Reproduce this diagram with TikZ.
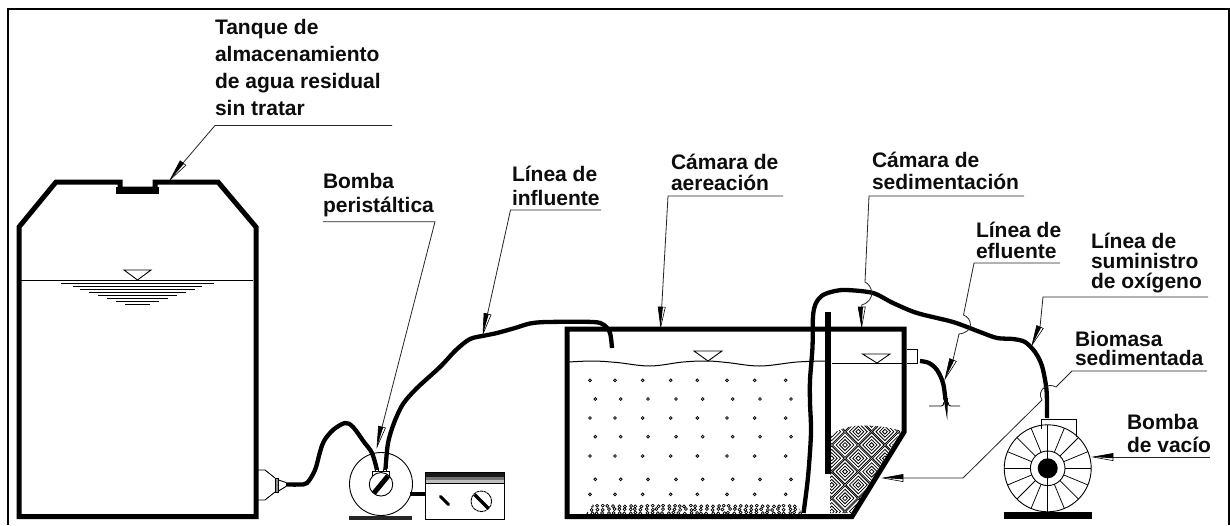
\documentclass[tikz,border=0pt]{standalone}
\usepackage{fontspec}
\setmainfont{Liberation Sans}
\usetikzlibrary{calc}
\tikzset{
  wall/.style={line width=5pt,line join=miter,draw=black},
  tube/.style={line width=4.3pt,draw=black,line cap=butt},
  thin line/.style={line width=0.9pt,draw=black},
  leader/.style={line width=0.8pt,draw=black!85},
  lbl/.style={anchor=base west,align=left,inner sep=0pt,outer sep=0pt,font=\fontsize{21}{#1}\bfseries\selectfont,text=black!95},
}
\newcommand\calloutarrow[2]{%
  \draw[line width=.6pt,fill=white] (#1) -- ($(#2)!3.6pt!90:(#1)$) -- ($(#2)!3.6pt!-90:(#1)$) -- cycle;
  \fill (#1) -- ($(#2)!3.6pt!-90:(#1)$) -- ($(#2)!1.2pt!90:(#1)$) -- cycle;
}
\begin{document}
\begin{tikzpicture}[x=1pt,y=-1pt]
\useasboundingbox (0,0) rectangle (1230,525);
\fill[white] (0,0) rectangle (1230,525);
% frame
\draw[line width=2pt] (7.5,525) -- (7.5,9) -- (1229,9) -- (1229,525);
% tank
\draw[wall] (19,516.5) -- (19,227) -- (56,182) -- (120,182) -- (120,189) -- (155,189) -- (155,182) -- (218,182) -- (256,227) -- (256,516.5) -- cycle;
\fill (116,187) rectangle (159,193.5);
\draw[thin line] (21,280) -- (253,280);
\draw[thin line] (124,270) -- (151,270) -- (137.5,280) -- cycle;
\foreach \yy/\xa/\xb in {283.3/61/214,286.7/73/202,289.6/80/195,292.4/89/186,295.3/98/177,298.3/107/168,301.3/116/159,304.3/125/150}
  \draw[line width=.8pt] (\xa,\yy) -- (\xb,\yy);
% tank outlet
\draw[thin line] (258,470) -- (265,470) -- (275,478);
\draw[thin line] (258,500) -- (265,500) -- (275,492);
\draw[thin line,fill=black!45] (275,478) rectangle (278.5,492);
\draw[thin line] (278.5,480) -- (286,482.5);
\draw[thin line] (278.5,491) -- (286,486.5);
% tube tank -> pump
\draw[tube] plot[smooth,tension=.55] coordinates {(286,484.5) (299,484.5) (307,483) (315,470) (320,452) (324,441) (333,430) (345,423) (353,427) (364,442) (372,453) (377,470)};
% peristaltic pump
\node[circle,draw=black,line width=.9pt,minimum size=63pt,inner sep=0pt] (ppump) at (381,484) {};
\node[circle,draw=black,line width=.9pt,minimum size=23.5pt,inner sep=0pt] (phub) at (381,484.3) {};
\draw[line width=5pt] (374,493) -- (388,476);
\draw[thin line] (372.7,476) -- (372.7,471.7) -- (389.3,471.7) -- (389.3,476);
\draw[thin line,fill=white] (375,469) rectangle (378,471.7);
\draw[thin line,fill=white] (383.3,469) rectangle (386.7,471.7);
\fill[black!85] (349,516) rectangle (412,519.5);
% influent tube
\draw[tube] plot[smooth,tension=.5] coordinates {(385.5,469) (388,443) (394,423) (403,404) (417,388) (440,367) (456,350) (470,339) (485,335.5) (497,333) (515,328) (530,323.5) (547,322) (593,322) (604,325) (610,333) (612,348)};
% controller
\draw[thin line] (425.7,472.5) rectangle (504,519);
\fill[black!90] (425.7,472.5) rectangle (504,477);
\fill[black!55] (425.7,477) rectangle (504,480);
\fill[black!25] (425.7,480) rectangle (504,483);
\draw[line width=.6pt] (425.7,483) -- (504,483);
\draw[line width=4pt] (410,494) -- (425.7,494);
\draw[line width=3pt,line cap=round] (440.5,496.5) -- (448.5,504.5);
\node[circle,draw=black,dash pattern=on 3pt off .6pt,line width=.9pt,minimum size=20.6pt,inner sep=0pt] (knob) at (481.3,501.3) {};
\draw[line width=3.4pt] (474.5,494.5) -- (488.3,508.3);
% chamber dots
\foreach \yy in {380.3,418,456,494.3}
  \foreach \xx in {590,615,642.7,670.7,697.3,727,754.7,785.7}
    \draw[line width=.8pt] (\xx,\yy) circle[radius=1.4];
\foreach \yy in {399,436.7,479.3}
  \foreach \xx in {595.3,620.7,648,676,702.7,732.7,760,791}
    \draw[line width=.8pt] (\xx,\yy) circle[radius=1.4];
% gravel
\begin{scope}
\clip (586,514) -- (593,504) -- (795,504) -- (803,514) -- cycle;
\pgfmathsetseed{11}
\foreach \row in {506,509.5,513}
  \foreach \xx in {586,591.5,...,804} {
    \pgfmathsetmacro\dx{rand*1.2}
    \pgfmathsetmacro\dy{rand*.6}
    \draw[line width=.7pt] (\xx+\dx,\row+\dy) circle[radius=1.5];
  }
\end{scope}
% sludge
\begin{scope}
\clip (830,513) -- (830,437) .. controls (836,429) and (850,425.5) .. (863,425.5) .. controls (880,425.5) and (892,428) .. (901,431) -- (852,513) -- cycle;
\foreach \i in {-3,...,4}
  \foreach \j in {-3,...,5} {
    \foreach \rr in {12.4,8.9,5.5,2.4} {
      \draw[line width=.8pt] (858.3+\i*26.6,431.7+\j*26.6) +(\rr,0) -- +(0,\rr) -- +(-\rr,0) -- +(0,-\rr) -- cycle;
      \draw[line width=.8pt] (845+\i*26.6,445+\j*26.6) +(\rr,0) -- +(0,\rr) -- +(-\rr,0) -- +(0,-\rr) -- cycle;
    }
  }
\end{scope}
% chamber
\draw[wall] (567,329) -- (904,329) -- (904,432) -- (852,516.5) -- (567,516.5) -- cycle;
% water surface
\draw[line width=1pt] plot[smooth,tension=.6] coordinates {(569,362) (593,361) (617,362.5) (650,366) (683,362) (707,361) (727,362.5) (760,366) (797,362) (827,361)};
\draw[thin line] (832,363) -- (902,363);
\draw[thin line] (694,351) -- (722,351) -- (708,361) -- cycle;
\draw[thin line] (862.5,354) -- (890,354) -- (877,363) -- cycle;
% baffle
\draw[line width=5.5pt] (828,312) -- (828,474);
% outlet
\draw[thin line] (907,349) -- (917,349) -- (917,363) -- (907,363);
% effluent
\draw[tube] plot[smooth,tension=.55] coordinates {(920,361) (929,363) (937,370) (943,383) (945.5,400)};
\fill (943.5,398) -- (948,398) -- (947.2,420) -- cycle;
\draw[thin line] (929,406) -- (941,406) .. controls (943,406) .. (944,402);
\draw[thin line] (960,406) -- (951,406) .. controls (949,406) .. (948,402);
% oxygen tube
\draw[tube] plot[smooth,tension=.5] coordinates {(803.5,513) (808,477) (811,433) (810,403) (810,380) (812.5,347) (813,316) (816,303) (823,295) (835,291) (847,290) (873,293) (893,303) (917,313) (953,322) (980,332) (997,338) (1013,339) (1025,342) (1035,352) (1042,366) (1046.5,390) (1047,418)};
% vacuum pump
\coordinate (vc) at (1047.7,468.3);
\foreach \a in {0,22.5,...,337.5}
  \draw[line width=.75pt] ($(vc)+(\a:17.3)$) -- ($(vc)+(\a:43.5)$);
\node[circle,draw=black,line width=.9pt,minimum size=87pt,inner sep=0pt] (vpump) at (vc) {};
\node[circle,draw=black,line width=.9pt,minimum size=34.6pt,inner sep=0pt] (vhub) at (vc) {};
\node[circle,fill=black,minimum size=20pt,inner sep=0pt] (vcore) at (vc) {};
\draw[thin line] (1047.7,511.8) -- (1047.7,425);
\draw[thin line] (1041.7,429) -- (1041.7,419.3) -- (1076.7,419.3) -- (1076.7,436.7);
\fill (1004,511.7) rectangle (1091.7,519.3);
% labels
\node[lbl=26.7] (t1) at (215,115) {Tanque de\\almacenamiento\\de agua residual\\sin tratar};
\node[lbl=24] (t2) at (323,212) {Bomba\\peristáltica};
\node[lbl=24] (t3) at (512,205) {Línea de\\influente};
\node[lbl=21] (t4) at (671,190) {Cámara de\\aereación};
\node[lbl=22] (t5) at (872,189) {Cámara de\\sedimentación};
\node[lbl=21] (t6) at (976,258) {Línea de\\efluente};
\node[lbl=20] (t7) at (1091,288) {Línea de\\suministro\\de oxígeno};
\node[lbl=19.2] (t8) at (1075,365.5) {Biomasa\\sedimentada};
\node[lbl=23] (t9) at (1127,452) {Bomba\\de vacío};
% callouts
\coordinate (a1) at (392,125.5); \coordinate (b1) at (215,125.5); \coordinate (c1) at (183,163); \coordinate (d1) at (170,180);
\draw[leader] (a1) -- (b1) -- (c1); \calloutarrow{d1}{c1}
\coordinate (a2) at (323,221.7); \coordinate (b2) at (435,221.7); \coordinate (c2) at (382,427); \coordinate (d2) at (377,447);
\draw[leader] (a2) -- (b2) -- (c2); \calloutarrow{d2}{c2}
\coordinate (a3) at (601,210); \coordinate (b3) at (510.5,210); \coordinate (c3) at (487.5,314); \coordinate (d3) at (483,334);
\draw[leader] (a3) -- (b3) -- (c3); \calloutarrow{d3}{c3}
\coordinate (a4) at (783,196); \coordinate (b4) at (668,196); \coordinate (c4) at (661.7,307); \coordinate (d4) at (660.7,327);
\draw[leader] (a4) -- (b4) -- (c4); \calloutarrow{d4}{c4}
\coordinate (a5) at (1024,196); \coordinate (b5) at (869,196); \coordinate (c5) at (865,282); \coordinate (e5) at (861.7,305); \coordinate (d5) at (861.7,327); \coordinate (f5) at (861.7,307);
\draw[leader] (a5) -- (b5) -- (c5) .. controls (872,285) and (877,300) .. (e5) -- (f5); \calloutarrow{d5}{f5}
\coordinate (a6) at (1060,263); \coordinate (b6) at (974,263); \coordinate (c6) at (963.5,315); \coordinate (e6) at (959,334); \coordinate (f6) at (953,360); \coordinate (d6) at (945,379);
\draw[leader] (a6) -- (b6) -- (c6) .. controls (972,318) and (975,332) .. (e6) -- (f6); \calloutarrow{d6}{f6}
\coordinate (a7) at (1208,297); \coordinate (b7) at (1043,297); \coordinate (c7) at (1040,327); \coordinate (d7) at (1032,345);
\draw[leader] (a7) -- (b7) -- (c7); \calloutarrow{d7}{c7}
\coordinate (a8) at (1207,371); \coordinate (b8) at (1072,371); \coordinate (c8) at (1056,387); \coordinate (e8) at (1042,400); \coordinate (f8) at (963,478); \coordinate (g8) at (903,478); \coordinate (d8) at (883,478);
\draw[leader] (a8) -- (b8) -- (c8) .. controls (1048,382) and (1036,390) .. (e8) -- (f8) -- (g8); \calloutarrow{d8}{g8}
\coordinate (a9) at (1210,457); \coordinate (c9) at (1113,457); \coordinate (d9) at (1093,457);
\draw[leader] (a9) -- (c9); \calloutarrow{d9}{c9}
\end{tikzpicture}
\end{document}
